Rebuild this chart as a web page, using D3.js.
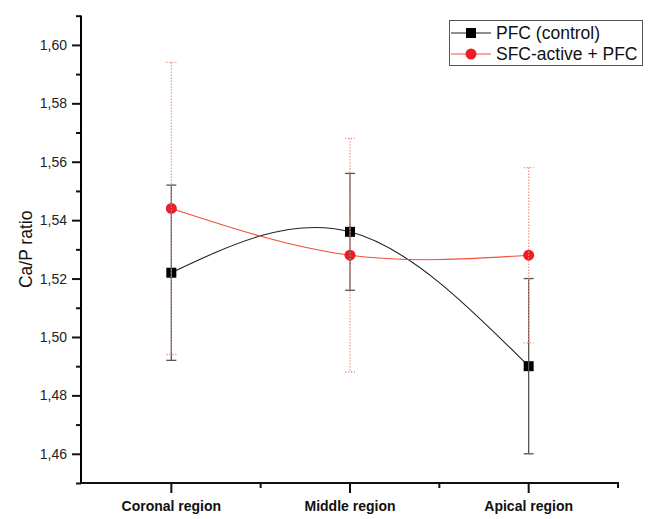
<!DOCTYPE html>
<html><head><meta charset="utf-8">
<script src="https://cdn.jsdelivr.net/npm/d3@7"></script>
<style>body{margin:0;background:#fff}svg{display:block}</style>
</head><body><svg id="c" width="670" height="519"></svg>
<script>
const categories = ["Coronal region", "Middle region", "Apical region"];
const pfcMean = [1.522, 1.536, 1.490];
const pfcErr  = [0.030, 0.020, 0.030];
const sfcMean = [1.544, 1.528, 1.528];
const sfcErr  = [0.050, 0.040, 0.030];
const seriesNames = ["PFC (control)", "SFC-active + PFC"];
const yMajorTicks = [1.46, 1.48, 1.50, 1.52, 1.54, 1.56, 1.58, 1.60];
const yMinorTicks = [1.45, 1.47, 1.49, 1.51, 1.53, 1.55, 1.57, 1.59, 1.61];
const yLabel = "Ca/P ratio";

const svg = d3.select("#c");
const font = "Arial, 'Liberation Sans', sans-serif";
const x = d3.scaleLinear().domain([0.5, 3.5]).range([82, 618]);
const y = d3.scaleLinear().domain([1.45, 1.61]).range([483, 15.7]);
const loc = d3.formatLocale({decimal: ",", thousands: ".", grouping: [3], currency: ["", ""]});
const fmt = loc.format(".2f");

// Y axis
const gy = svg.append("g").attr("transform", "translate(81,0)");
gy.call(d3.axisLeft(y).tickValues(yMajorTicks).tickFormat(fmt).tickSize(9).tickPadding(5));
gy.append("g").call(d3.axisLeft(y).tickValues(yMinorTicks).tickFormat("").tickSize(5));
gy.selectAll(".domain").attr("stroke-width", 2).attr("d", `M0,${y(1.61)}V${y(1.45)+1}`);
gy.selectAll("line").attr("stroke-width", 2).attr("stroke", "#111");
gy.selectAll("text").attr("font-family", font).attr("font-size", 14).attr("fill", "#222");

// X axis
const gx = svg.append("g").attr("transform", `translate(0,483)`);
gx.append("line").attr("x1", 80).attr("x2", x(3.5) + 1).attr("stroke", "#111").attr("stroke-width", 2);
gx.selectAll(".maj").data(categories).join("line").attr("class", "maj")
  .attr("x1", (d, i) => x(i + 1)).attr("x2", (d, i) => x(i + 1)).attr("y1", 0).attr("y2", 10)
  .attr("stroke", "#111").attr("stroke-width", 2);
gx.selectAll(".min").data([1.5, 2.5, 3.5]).join("line").attr("class", "min")
  .attr("x1", d => x(d)).attr("x2", d => x(d)).attr("y1", 0).attr("y2", 5)
  .attr("stroke", "#111").attr("stroke-width", 2);
gx.selectAll("text").data(categories).join("text")
  .attr("x", (d, i) => x(i + 1)).attr("y", 28).attr("text-anchor", "middle")
  .attr("font-family", font).attr("font-size", 14).attr("font-weight", "bold").attr("fill", "#111").text(d => d);

// Y label
svg.append("text").attr("transform", `translate(32,${(y(1.61) + y(1.45)) / 2}) rotate(-90)`)
  .attr("text-anchor", "middle").attr("font-family", font).attr("font-size", 17.5).attr("fill", "#111").text(yLabel);

const line = d3.line().x((d, i) => x(i + 1)).y(d => y(d)).curve(d3.curveNatural);
svg.append("path").attr("d", line(pfcMean)).attr("fill", "none").attr("stroke", "#222").attr("stroke-width", 1.1);
svg.append("path").attr("d", line(sfcMean)).attr("fill", "none").attr("stroke", "#f0503c").attr("stroke-width", 1.1);

// markers
svg.selectAll(".sq").data(pfcMean).join("rect").attr("class", "sq")
  .attr("x", (d, i) => x(i + 1) - 5).attr("y", d => y(d) - 5).attr("width", 10).attr("height", 10).attr("fill", "#000");
svg.selectAll(".ci").data(sfcMean).join("circle").attr("class", "ci")
  .attr("cx", (d, i) => x(i + 1)).attr("cy", d => y(d)).attr("r", 5.5).attr("fill", "#ee1c24");

// error bars
function errBars(mean, err, color, dash) {
  const g = svg.append("g");
  mean.forEach((m, i) => {
    const cx = x(i + 1), t = y(m + err[i]), b = y(m - err[i]);
    g.append("line").attr("x1", cx).attr("x2", cx).attr("y1", t).attr("y2", b)
      .attr("stroke", color).attr("stroke-width", 1.3).attr("stroke-dasharray", dash);
    [t, b].forEach(yy => g.append("line").attr("x1", cx - 5).attr("x2", cx + 5).attr("y1", yy).attr("y2", yy)
      .attr("stroke", color).attr("stroke-width", 1.3).attr("stroke-dasharray", dash));
  });
}
errBars(pfcMean, pfcErr, "#555", null);
errBars(sfcMean, sfcErr, "#f08a7a", "1.2,1.8");

// legend
const lg = svg.append("g");
lg.append("rect").attr("x", 449.5).attr("y", 20.5).attr("width", 193).attr("height", 45)
  .attr("fill", "#fff").attr("stroke", "#555").attr("stroke-width", 1);
const rows = [{c: "#222", m: "sq"}, {c: "#f0503c", m: "ci"}];
seriesNames.forEach((n, i) => {
  const yy = 33 + i * 21;
  lg.append("line").attr("x1", 451).attr("x2", 491).attr("y1", yy).attr("y2", yy).attr("stroke", rows[i].c).attr("stroke-width", 1.1);
  if (rows[i].m === "sq") lg.append("rect").attr("x", 466).attr("y", yy - 5).attr("width", 10).attr("height", 10).attr("fill", "#000");
  else lg.append("circle").attr("cx", 471).attr("cy", yy).attr("r", 5.5).attr("fill", "#ee1c24");
  lg.append("text").attr("x", 496).attr("y", yy + 6).attr("font-family", font).attr("font-size", 17.5).attr("fill", "#111").text(n);
});
</script></body></html>
